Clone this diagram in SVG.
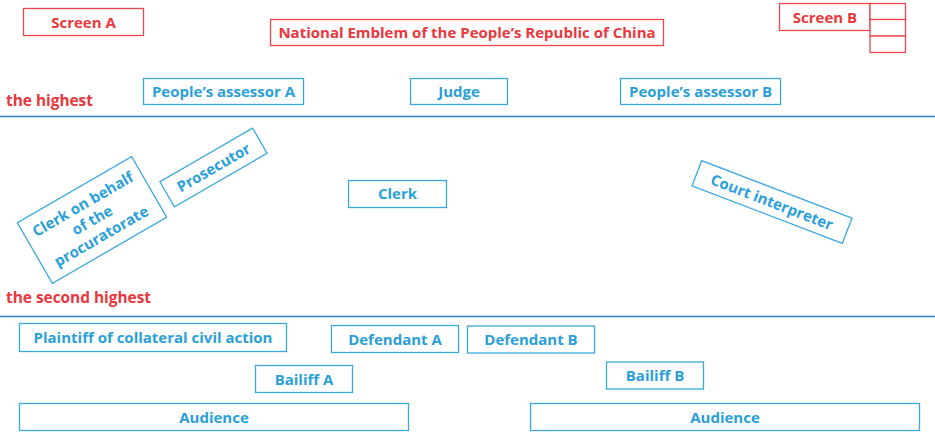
<svg xmlns="http://www.w3.org/2000/svg" width="935" height="433" viewBox="0 0 935 433">
<style>
.r{fill:#fff;stroke:#e8474b;stroke-width:1.3}
.b{fill:#fff;stroke:#3aa8e0;stroke-width:1.3}
.tr{font-family:"Open Sans","Liberation Sans",sans-serif;font-weight:bold;font-size:15px;fill:#e8383d;text-anchor:middle}
.tb{font-family:"Open Sans","Liberation Sans",sans-serif;font-weight:bold;font-size:15px;fill:#2a9fd8;text-anchor:middle}
.lv{font-family:"Open Sans","Liberation Sans",sans-serif;font-weight:bold;font-size:15.4px;fill:#e8383d}
.ln{stroke:#2b78c2;stroke-width:1.5}
</style>
<rect width="935" height="433" fill="#fff"/>
<g id="levels">
<text class="lv" x="6" y="106">the highest</text>
<text class="lv" x="6" y="303">the second highest</text>
</g>
<g id="connectors">
<line class="ln" x1="0" y1="116.5" x2="935" y2="116.5"/>
<line class="ln" x1="0" y1="316.5" x2="935" y2="316.5"/>
</g>
<g id="screenA"><rect class="r" x="23.5" y="8.5" width="120" height="27"/><text class="tr" x="83.5" y="27.5">Screen A</text></g>
<g id="emblem"><rect class="r" x="270.5" y="19.5" width="393" height="26"/><text class="tr" x="467" y="38">National Emblem of the People’s Republic of China</text></g>
<g id="screenB"><rect class="r" x="779.5" y="3.5" width="90.5" height="27"/><text class="tr" x="825" y="22.5">Screen B</text>
<rect class="r" x="870" y="3.5" width="35.5" height="16"/><rect class="r" x="870" y="19.5" width="35.5" height="16.5"/><rect class="r" x="870" y="36" width="35.5" height="16.5"/></g>
<g id="assessorA"><rect class="b" x="143.5" y="78.5" width="160" height="26"/><text class="tb" x="223.5" y="96.5">People’s assessor A</text></g>
<g id="judge"><rect class="b" x="410.5" y="78.5" width="97" height="26"/><text class="tb" x="459" y="96.5">Judge</text></g>
<g id="assessorB"><rect class="b" x="620.5" y="78.5" width="160" height="26"/><text class="tb" x="700.5" y="96.5">People’s assessor B</text></g>
<g id="clerk"><rect class="b" x="348.5" y="180.5" width="98" height="27"/><text class="tb" x="397.5" y="199">Clerk</text></g>
<g id="prosecutor" transform="translate(213.5 167.5) rotate(-30)"><rect class="b" x="-53.5" y="-14.5" width="107" height="29"/><text class="tb" x="0" y="5.5">Prosecutor</text></g>
<g id="clerkProcuratorate" transform="translate(92 220) rotate(-30)"><rect class="b" x="-66" y="-35" width="132" height="70"/><text class="tb" x="0" y="-13">Clerk on behalf</text><text class="tb" x="0" y="5.5">of the</text><text class="tb" x="0" y="24">procuratorate</text></g>
<g id="interpreter" transform="translate(772 202) rotate(21)"><rect class="b" x="-80.5" y="-13.5" width="161" height="27"/><text class="tb" x="0" y="5.5">Court interpreter</text></g>
<g id="plaintiff"><rect class="b" x="19.5" y="323.5" width="267" height="28"/><text class="tb" x="153" y="343">Plaintiff of collateral civil action</text></g>
<g id="defendantA"><rect class="b" x="331.5" y="325.5" width="127" height="27"/><text class="tb" x="395" y="344.5">Defendant A</text></g>
<g id="defendantB"><rect class="b" x="467.5" y="326" width="127" height="27"/><text class="tb" x="531" y="345">Defendant B</text></g>
<g id="bailiffA"><rect class="b" x="255.5" y="365.5" width="97" height="27"/><text class="tb" x="304" y="384.5">Bailiff A</text></g>
<g id="bailiffB"><rect class="b" x="606.5" y="362" width="97" height="27"/><text class="tb" x="655" y="381">Bailiff B</text></g>
<g id="audienceA"><rect class="b" x="19.5" y="403.5" width="389" height="27"/><text class="tb" x="214" y="422.5">Audience</text></g>
<g id="audienceB"><rect class="b" x="530.5" y="403.5" width="389" height="27"/><text class="tb" x="725" y="422.5">Audience</text></g>
</svg>
